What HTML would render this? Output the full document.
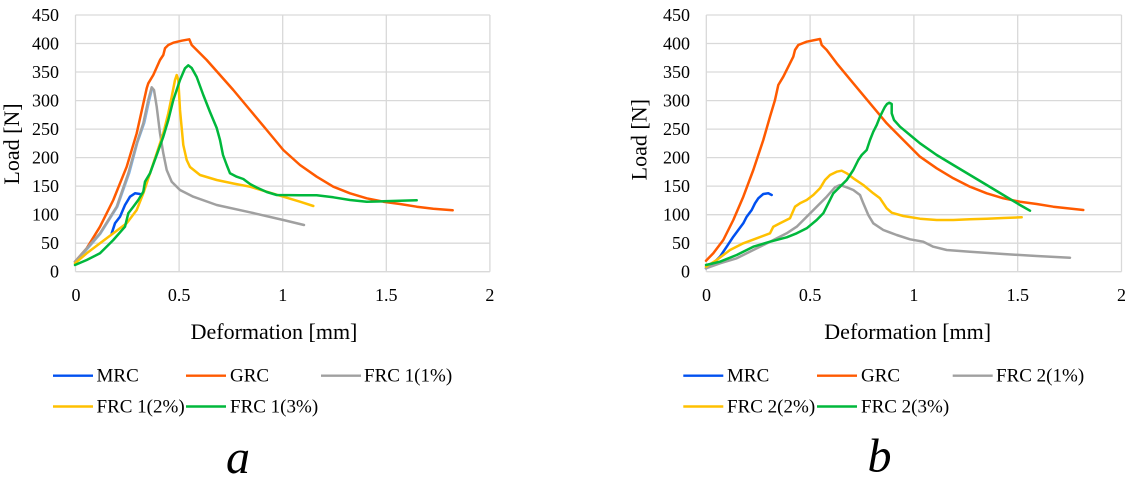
<!DOCTYPE html>
<html>
<head>
<meta charset="utf-8">
<style>
html,body{margin:0;padding:0;background:#fff;}
svg{display:block;}
text{font-family:"Liberation Serif","Times New Roman",serif;fill:#000;}
</style>
</head>
<body>
<svg width="1134" height="492" viewBox="0 0 1134 492" xmlns="http://www.w3.org/2000/svg">
<rect width="1134" height="492" fill="#fff"/>

<!-- ===== LEFT CHART GRID ===== -->
<g stroke="#d9d9d9" stroke-width="1.3" fill="none">
  <line x1="75.5" y1="271.7" x2="489.9" y2="271.7"/>
  <line x1="75.5" y1="243.2" x2="489.9" y2="243.2"/>
  <line x1="75.5" y1="214.7" x2="489.9" y2="214.7"/>
  <line x1="75.5" y1="186.1" x2="489.9" y2="186.1"/>
  <line x1="75.5" y1="157.6" x2="489.9" y2="157.6"/>
  <line x1="75.5" y1="129.1" x2="489.9" y2="129.1"/>
  <line x1="75.5" y1="100.6" x2="489.9" y2="100.6"/>
  <line x1="75.5" y1="72.0" x2="489.9" y2="72.0"/>
  <line x1="75.5" y1="43.5" x2="489.9" y2="43.5"/>
  <line x1="75.5" y1="15.0" x2="489.9" y2="15.0"/>
  <line x1="75.5" y1="15" x2="75.5" y2="271.7"/>
  <line x1="179.1" y1="15" x2="179.1" y2="271.7"/>
  <line x1="282.7" y1="15" x2="282.7" y2="271.7"/>
  <line x1="386.3" y1="15" x2="386.3" y2="271.7"/>
  <line x1="489.9" y1="15" x2="489.9" y2="271.7"/>
</g>

<!-- ===== RIGHT CHART GRID ===== -->
<g stroke="#d9d9d9" stroke-width="1.3" fill="none">
  <line x1="706.3" y1="271.7" x2="1121.5" y2="271.7"/>
  <line x1="706.3" y1="243.2" x2="1121.5" y2="243.2"/>
  <line x1="706.3" y1="214.7" x2="1121.5" y2="214.7"/>
  <line x1="706.3" y1="186.1" x2="1121.5" y2="186.1"/>
  <line x1="706.3" y1="157.6" x2="1121.5" y2="157.6"/>
  <line x1="706.3" y1="129.1" x2="1121.5" y2="129.1"/>
  <line x1="706.3" y1="100.6" x2="1121.5" y2="100.6"/>
  <line x1="706.3" y1="72.0" x2="1121.5" y2="72.0"/>
  <line x1="706.3" y1="43.5" x2="1121.5" y2="43.5"/>
  <line x1="706.3" y1="15.0" x2="1121.5" y2="15.0"/>
  <line x1="706.3" y1="15" x2="706.3" y2="271.7"/>
  <line x1="810.1" y1="15" x2="810.1" y2="271.7"/>
  <line x1="913.9" y1="15" x2="913.9" y2="271.7"/>
  <line x1="1017.7" y1="15" x2="1017.7" y2="271.7"/>
  <line x1="1121.5" y1="15" x2="1121.5" y2="271.7"/>
</g>

<!-- ===== LEFT TICK LABELS ===== -->
<g font-size="18" text-anchor="end">
  <text x="59" y="277.7">0</text>
  <text x="59" y="249.2">50</text>
  <text x="59" y="220.7">100</text>
  <text x="59" y="192.1">150</text>
  <text x="59" y="163.6">200</text>
  <text x="59" y="135.1">250</text>
  <text x="59" y="106.6">300</text>
  <text x="59" y="78.0">350</text>
  <text x="59" y="49.5">400</text>
  <text x="59" y="21.0">450</text>
</g>
<g font-size="18" text-anchor="middle">
  <text x="76" y="301">0</text>
  <text x="179.1" y="301">0.5</text>
  <text x="282.7" y="301">1</text>
  <text x="386.3" y="301">1.5</text>
  <text x="489.9" y="301">2</text>
</g>

<!-- ===== RIGHT TICK LABELS ===== -->
<g font-size="18" text-anchor="end">
  <text x="690" y="277.7">0</text>
  <text x="690" y="249.2">50</text>
  <text x="690" y="220.7">100</text>
  <text x="690" y="192.1">150</text>
  <text x="690" y="163.6">200</text>
  <text x="690" y="135.1">250</text>
  <text x="690" y="106.6">300</text>
  <text x="690" y="78.0">350</text>
  <text x="690" y="49.5">400</text>
  <text x="690" y="21.0">450</text>
</g>
<g font-size="18" text-anchor="middle">
  <text x="706.5" y="301">0</text>
  <text x="810.1" y="301">0.5</text>
  <text x="913.9" y="301">1</text>
  <text x="1017.7" y="301">1.5</text>
  <text x="1121.5" y="301">2</text>
</g>

<!-- Axis titles -->
<text x="274" y="339" font-size="22" text-anchor="middle">Deformation [mm]</text>
<text x="907.7" y="339" font-size="22" text-anchor="middle">Deformation [mm]</text>
<text transform="translate(19,144) rotate(-90)" font-size="22" text-anchor="middle">Load [N]</text>
<text transform="translate(646.7,139.7) rotate(-90)" font-size="22" text-anchor="middle">Load [N]</text>

<!-- ===== LEFT SERIES ===== -->
<g fill="none" stroke-width="2.5" stroke-linejoin="round" stroke-linecap="round">
  <!-- MRC -->
  <polyline stroke="#0050f0" points="111.7,233.3 115,223.3 120,216.7 125,205 130,196.7 135,193.3 140,194"/>
  <!-- GRC -->
  <polyline stroke="#ff5a00" points="75,261.7 86.7,248.3 100,226.7 113.3,200 126.7,166.7 136.7,133.3 146.7,88.3 148.3,83.3 153.3,75 160,60 163.3,55 165,48.3 168.3,45 173.3,42.7 181.7,40.7 189.3,39.3 191.7,45 196.7,50 206.7,60 220,75 233.3,90 250,110 266.7,130 283.3,150 300,165 316.7,176.7 333.3,186.7 350,193.3 366.7,198.3 383.3,201.7 400,204 416.7,206.7 433.3,208.7 452.7,210.3"/>
  <!-- thin light blue companion -->
  <polyline stroke="#7fb3e6" stroke-width="1" points="77,262 101,234 118,207 130,173 138,143 145,123 150,100 153,88"/>
  <!-- FRC 1(1%) -->
  <polyline stroke="#a0a0a0" points="75,261.7 100,233.3 116.7,206.7 128.3,173.3 136.7,143.3 143.3,123.3 148.3,100 151.7,87.3 154,90 156.7,106.7 160,133.3 163.3,153.3 166.7,170 171.7,181.7 180,190 193.3,196.7 216.7,205 250,212.3 283.3,220 304,225"/>
  <!-- FRC 1(2%) -->
  <polyline stroke="#ffc000" points="75,263.3 86.7,253.3 100,243.3 113.3,233.3 126.7,223.3 136.7,210 143.3,193.3 150,173.3 156.7,153.3 163.3,133.3 168.3,113.3 171.7,96.7 175,80 176.7,75 178.3,80 180,110 183.3,145 186.7,160 190,167 200,175 216.7,180 233.3,183.5 250,186.7 266.7,191.7 283.3,196.7 300,201.7 313.3,206"/>
  <!-- FRC 1(3%) -->
  <polyline stroke="#00b83c" points="75,265 86.7,260 100,253.3 113.3,240 125,226.7 128.3,213.3 133.3,206.7 138.3,200 143.3,191.7 145,181.7 150,173.3 156.7,155 163.3,136.7 168.3,120 173.3,100 180,80 185,68.3 188.3,65.3 191.7,68 196.7,77 203.3,95 210,112 216.7,128 220,140 223,155 226.7,165 230,173.3 236.7,176.7 243.3,179 250,184 256.7,187.5 266.7,192 276.7,195 300,195.3 316.7,195.3 333.3,197.3 350,200 366.7,201.7 383.3,201.3 400,200.7 416.7,200.3"/>
</g>

<!-- ===== RIGHT SERIES ===== -->
<g fill="none" stroke-width="2.5" stroke-linejoin="round" stroke-linecap="round">
  <!-- MRC -->
  <polyline stroke="#0050f0" points="706,268.3 713.3,263.3 720,256.7 726.7,246.7 733.3,236.7 738.3,230 743.3,223.3 746.7,216.7 751.7,210 755,203.3 758.3,198.3 763.3,194 768.3,193.3 771.7,195"/>
  <!-- GRC -->
  <polyline stroke="#ff5a00" points="706,260.7 713.3,253.3 723.3,240 733.3,220 743.3,196.7 753.3,170 763.3,140 770,116.7 775,100 778.3,85 783.3,76.7 788.3,66.7 793.3,56.7 795,50 798.3,45 806.7,41.7 820,39 821.7,45 826.7,50 836.7,63.3 853.3,83.3 870,103.3 886.7,123.3 903.3,140 920,156.7 936.7,168.3 953.3,178.3 970,186.7 986.7,193.3 1003.3,198.3 1020,201.7 1036.7,204 1053.3,206.7 1083.3,210"/>
  <!-- FRC 2(1%) -->
  <polyline stroke="#a0a0a0" points="706,268.3 720,263.3 736.7,258.3 753.3,250 770,241.7 786.7,233.3 796.7,226.7 806.7,216.7 816.7,206.7 826.7,196.7 835,187.3 840,185 846.7,187.3 853.3,190 860,195 863.3,203.3 868.3,215 873.3,223.3 883.3,230 896.7,235 910,239.3 923.3,241.7 933.3,246.7 946.7,250 970,251.7 1003.3,254 1036.7,256 1070,257.7"/>
  <!-- FRC 2(2%) -->
  <polyline stroke="#ffc000" points="706,266.7 716.7,260 730,250 743.3,243.3 756.7,238.3 770,233.3 773.3,226.7 780,223.3 790,218.3 795,206.7 800,203.3 806.7,200 813.3,195 820,188.3 825,180 830,175 836.7,171.7 841.7,170.7 846.7,173.3 853.3,178.3 863.3,185 873.3,193.3 880,198.3 886.7,208.3 891.7,212.7 903.3,216 920,218.7 936.7,220 953.3,220 970,219.3 986.7,218.7 1003.3,218 1021.7,217.3"/>
  <!-- FRC 2(3%) -->
  <polyline stroke="#00b83c" points="706,265 720,261.7 736.7,255 753.3,246.7 770,241.7 786.7,237.3 796.7,233.3 806.7,228.3 816.7,220 823.3,213.3 828.3,203.3 833.3,193.3 840,186.7 846.7,180 853.3,170 858.3,160 861.7,155 866.7,150 870,140 873.3,131.7 876.7,125 880,116.7 883.3,110 885,106.7 887,104 889.3,102.7 891.7,104 891.7,113.3 894,120 900,126.7 910,135 920,143.3 936.7,155 953.3,165 970,175 986.7,185 1003.3,195 1020,205 1030,210.7"/>
</g>

<!-- ===== LEFT LEGEND ===== -->
<g stroke-width="2.4" fill="none">
  <line x1="53" y1="375.7" x2="93" y2="375.7" stroke="#0050f0"/>
  <line x1="186" y1="375.7" x2="226" y2="375.7" stroke="#ff5a00"/>
  <line x1="321" y1="375.7" x2="361" y2="375.7" stroke="#a0a0a0"/>
  <line x1="53" y1="406.5" x2="93" y2="406.5" stroke="#ffc000"/>
  <line x1="186" y1="406.5" x2="226" y2="406.5" stroke="#00b83c"/>
</g>
<g font-size="19">
  <text x="96.5" y="381.7">MRC</text>
  <text x="230" y="381.7">GRC</text>
  <text x="364" y="381.7">FRC 1(1%)</text>
  <text x="96.5" y="412.5">FRC 1(2%)</text>
  <text x="230" y="412.5">FRC 1(3%)</text>
</g>

<!-- ===== RIGHT LEGEND ===== -->
<g stroke-width="2.4" fill="none">
  <line x1="683.3" y1="375.7" x2="723.3" y2="375.7" stroke="#0050f0"/>
  <line x1="817" y1="375.7" x2="857" y2="375.7" stroke="#ff5a00"/>
  <line x1="952.7" y1="375.7" x2="992.7" y2="375.7" stroke="#a0a0a0"/>
  <line x1="683.3" y1="406.5" x2="723.3" y2="406.5" stroke="#ffc000"/>
  <line x1="817" y1="406.5" x2="857" y2="406.5" stroke="#00b83c"/>
</g>
<g font-size="19">
  <text x="727" y="381.7">MRC</text>
  <text x="861" y="381.7">GRC</text>
  <text x="996" y="381.7">FRC 2(1%)</text>
  <text x="727" y="412.5">FRC 2(2%)</text>
  <text x="861" y="412.5">FRC 2(3%)</text>
</g>

<!-- Panel labels -->
<text x="238" y="473" font-size="48" font-style="italic" text-anchor="middle">a</text>
<text x="879.5" y="471.5" font-size="48" font-style="italic" text-anchor="middle">b</text>
</svg>
</body>
</html>
